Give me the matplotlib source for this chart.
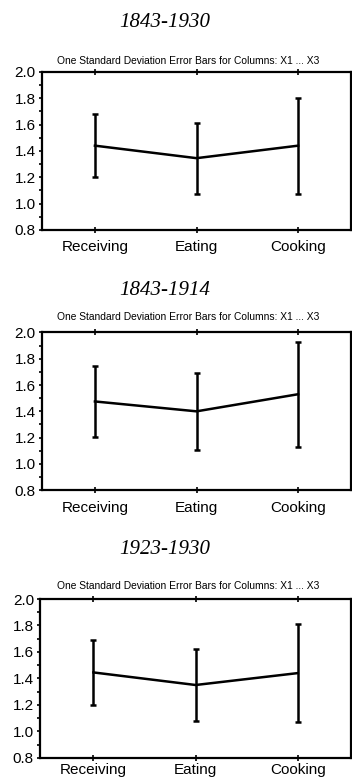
import matplotlib.pyplot as plt
from matplotlib.ticker import MultipleLocator

# Данные
categories = ["Receiving", "Eating", "Cooking"]
periods = ["1843-1930", "1843-1914", "1923-1930"]
means = [
    [1.44, 1.345, 1.44],
    [1.475, 1.40, 1.53],
    [1.445, 1.35, 1.44],
]
sds = [
    [0.24, 0.27, 0.365],
    [0.27, 0.29, 0.40],
    [0.245, 0.275, 0.37],
]
subtitle = "One Standard Deviation Error Bars for Columns: X1 ... X3"

fig = plt.figure(figsize=(3.52, 7.82), dpi=100)

# [left, bottom, width, height], позиция заголовка, позиция подзаголовка, отступ подписей
boxes = [
    ([0.119, 0.706, 0.878, 0.202], 0.971, 0.922, 5),
    ([0.119, 0.373, 0.878, 0.202], 0.629, 0.594, 5),
    ([0.114, 0.031, 0.883, 0.203], 0.297, 0.251, 1.5),
]

x = [1, 2, 3]
for i in range(3):
    box, ty, sy, lpad = boxes[i]
    ax = fig.add_axes(box)
    ax.errorbar(x, means[i], yerr=sds[i], color="black", linewidth=1.8,
                elinewidth=1.8, capsize=2, capthick=1.8)
    ax.set_xlim(0.478, 3.52)
    ax.set_ylim(0.8, 2.0)
    ax.set_xticks(x)
    ax.set_xticklabels(categories, fontsize=11, family="Liberation Sans")
    ax.yaxis.set_major_locator(MultipleLocator(0.2))
    ax.yaxis.set_minor_locator(MultipleLocator(0.1))
    ax.set_yticklabels([f"{v:.1f}" for v in ax.get_yticks()], fontsize=11,
                       family="Liberation Sans")
    ax.tick_params(axis="y", which="both", direction="out", length=2.5,
                   width=1.2, pad=2, right=True)
    ax.tick_params(axis="x", direction="inout", length=5, width=1.2, top=True, pad=lpad)
    for s in ax.spines.values():
        s.set_linewidth(1.6)
    fig.text(0.469, ty, periods[i], ha="center", va="center", fontsize=15,
             style="italic", family="Liberation Serif")
    fig.text(0.535, sy, subtitle, ha="center", va="center", fontsize=7.4,
             family="Liberation Sans")

plt.savefig("out.png", dpi=100)
